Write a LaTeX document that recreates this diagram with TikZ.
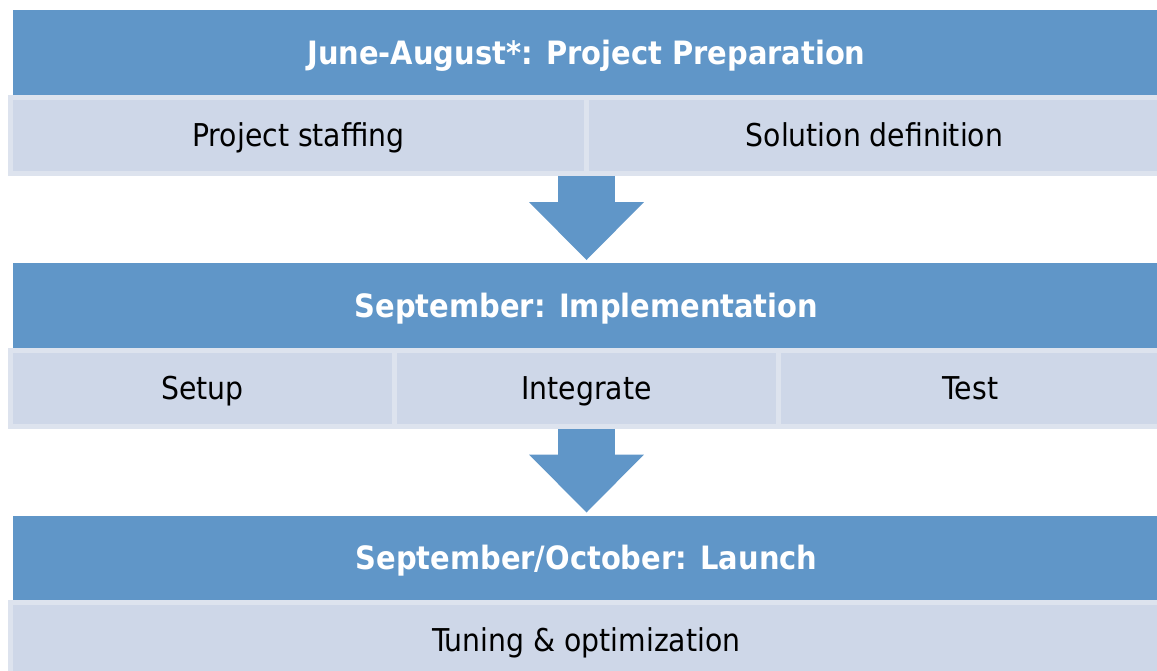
\documentclass[tikz,border=0pt]{standalone}
\usepackage{fontspec}
\setmainfont{DejaVu Sans Condensed}
\usetikzlibrary{positioning,arrows.meta}

\definecolor{phaseblue}{RGB}{96,150,200}
\definecolor{taskfill}{RGB}{206,215,232}
\definecolor{taskline}{RGB}{221,227,238}

\begin{document}
\begin{tikzpicture}[x=0.02cm,y=-0.02cm,
		phase/.style={fill=phaseblue,text=white,font=\bfseries\fontsize{18.3}{22}\selectfont,
			text height=13.3pt,text depth=0pt,
			minimum width=22.94cm,minimum height=1.7cm,inner sep=0pt,outer sep=0pt},
		task/.style={fill=taskfill,draw=taskline,line width=0.1cm,font=\fontsize{17.9}{21}\selectfont,
			text height=13pt,text depth=0pt,
			minimum height=1.52cm,inner sep=0pt,outer sep=0pt},
		flow/.style={draw=phaseblue,line width=1.16cm,shorten <=0.05cm,
			-{Triangle[width=2.3cm,length=1.16cm,line width=0pt,fill=phaseblue]}}]
		
		\useasboundingbox (0,0) rectangle (1157,671);
		\clip (0,0) rectangle (1157,671);
		
		% phase 1
		\node[phase] (prep) at (586.5,52.5) {June-August*: Project Preparation};
		\node[task,minimum width=11.52cm] (staffing) at (298.5,135.5) {Project staffing};
		\node[task,minimum width=11.52cm] (definition) at (874.5,135.5) {Solution definition};
		
		% phase 2
		\node[phase] (impl) at (586.5,305.5) {September: Implementation};
		\node[task,minimum width=7.68cm] (setup) at (202.5,388.5) {Setup};
		\node[task,minimum width=7.68cm] (integrate) at (586.5,388.5) {Integrate};
		\node[task,minimum width=7.68cm] (test) at (970.5,388.5) {Test};
		
		% phase 3
		\node[phase] (launch) at (586.5,558) {September/October: Launch};
		\node[task,minimum width=23.04cm] (tuning) at (586.5,640.5) {Tuning \& optimization};
		
		\draw[flow] (prep.center |- staffing.south) -- ([yshift=0.06cm]impl.north);
		\draw[flow] (integrate.south) -- ([yshift=0.06cm]launch.north);
		
	\end{tikzpicture}
\end{document}
